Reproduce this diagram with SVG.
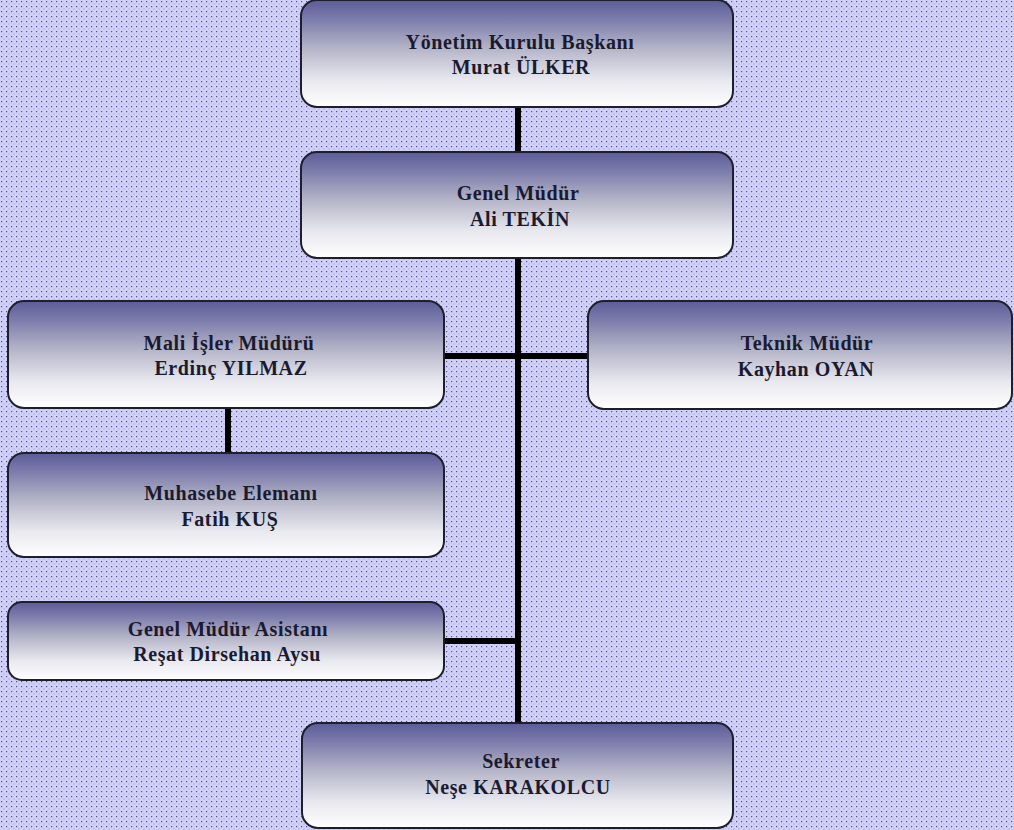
<svg xmlns="http://www.w3.org/2000/svg" width="1014" height="830" viewBox="0 0 1014 830">
  <defs>
    <pattern id="dots" x="0" y="0" width="5" height="5" patternUnits="userSpaceOnUse">
      <rect width="5" height="5" fill="#d0d0f8"/>
      <rect x="1" y="1" width="1.2" height="1.2" fill="#4e4e90"/>
      <rect x="3.5" y="3.5" width="1" height="1" fill="#9a9ad0"/>
    </pattern>
    <linearGradient id="boxGrad" x1="0" y1="0" x2="0" y2="1">
      <stop offset="0" stop-color="#5c5c98"/>
      <stop offset="0.18" stop-color="#7c7cac"/>
      <stop offset="0.45" stop-color="#b4b4c8"/>
      <stop offset="0.75" stop-color="#e8e8ef"/>
      <stop offset="1" stop-color="#ffffff"/>
    </linearGradient>
    <style>
      .box { fill: url(#boxGrad); stroke: #1e1e2c; stroke-width: 2; }
      .lbl { font-family: "Liberation Serif", "DejaVu Serif", serif; font-weight: bold; font-size: 20px; fill: #1a1a30; text-anchor: middle; letter-spacing: 0.6px; }
      .conn { stroke: #000000; stroke-width: 6; fill: none; stroke-linecap: butt; }
    </style>
  </defs>

  <rect width="1014" height="830" fill="url(#dots)"/>

  <g id="connectors">
    <line class="conn" x1="518" y1="106" x2="518" y2="153"/>
    <line class="conn" x1="518" y1="257" x2="518" y2="724"/>
    <line class="conn" x1="443" y1="356" x2="589" y2="356"/>
    <line class="conn" x1="228" y1="407" x2="228" y2="454"/>
    <line class="conn" x1="443" y1="641" x2="518" y2="641"/>
  </g>

  <g id="node-baskan">
    <rect class="box" x="301" y="0" width="432" height="107" rx="16"/>
    <text class="lbl" x="520" y="49">Yönetim Kurulu Başkanı</text>
    <text class="lbl" x="521" y="74">Murat ÜLKER</text>
  </g>

  <g id="node-genel-mudur">
    <rect class="box" x="301" y="152" width="432" height="106" rx="16"/>
    <text class="lbl" x="518" y="200">Genel Müdür</text>
    <text class="lbl" x="520" y="226">Ali TEKİN</text>
  </g>

  <g id="node-mali">
    <rect class="box" x="8" y="301" width="436" height="107" rx="16"/>
    <text class="lbl" x="229" y="350">Mali İşler Müdürü</text>
    <text class="lbl" x="231" y="375">Erdinç YILMAZ</text>
  </g>

  <g id="node-teknik">
    <rect class="box" x="588" y="301" width="424" height="108" rx="16"/>
    <text class="lbl" x="807" y="350">Teknik Müdür</text>
    <text class="lbl" x="806" y="376">Kayhan OYAN</text>
  </g>

  <g id="node-muhasebe">
    <rect class="box" x="8" y="453" width="436" height="104" rx="16"/>
    <text class="lbl" x="231" y="500">Muhasebe Elemanı</text>
    <text class="lbl" x="230" y="526">Fatih KUŞ</text>
  </g>

  <g id="node-asistan">
    <rect class="box" x="8" y="602" width="436" height="78" rx="14"/>
    <text class="lbl" x="228" y="636">Genel Müdür Asistanı</text>
    <text class="lbl" x="227" y="661">Reşat Dirsehan Aysu</text>
  </g>

  <g id="node-sekreter">
    <rect class="box" x="302" y="723" width="431" height="105" rx="16"/>
    <text class="lbl" x="521" y="768">Sekreter</text>
    <text class="lbl" x="518" y="794">Neşe KARAKOLCU</text>
  </g>
</svg>
